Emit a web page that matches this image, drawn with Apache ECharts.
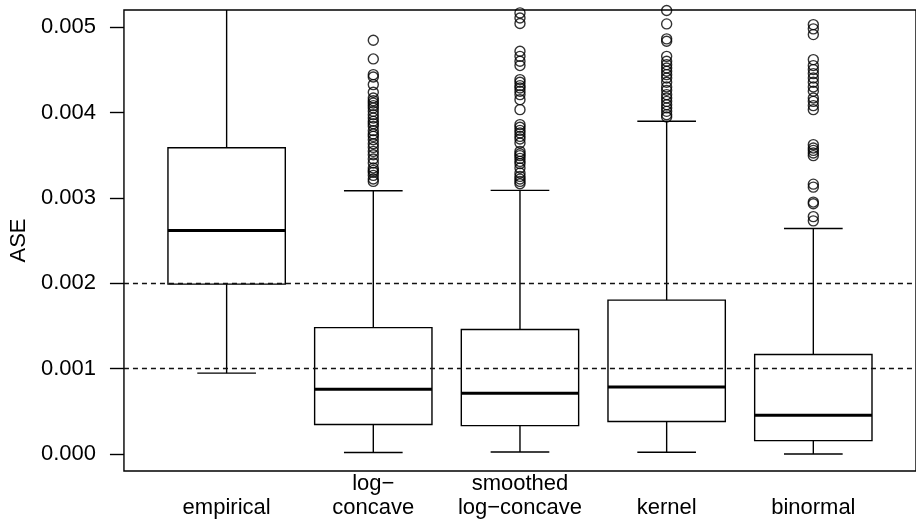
<!DOCTYPE html>
<html>
<head>
<meta charset="utf-8">
<script src="https://cdn.jsdelivr.net/npm/echarts@6/dist/echarts.min.js"></script>
<style>
  html, body { margin: 0; padding: 0; background: #fff; }
  #chart { width: 916px; height: 522px; }
</style>
</head>
<body>
<div id="chart"></div>
<script>
// categories and box statistics
const categories = ['empirical', 'log\u2212\nconcave', 'smoothed\nlog\u2212concave', 'kernel', 'binormal'];
const lowerWhisker = [0.000946, 0.000016, 0.000023, 0.000020, 0.000000];
const q1 = [0.001989, 0.000344, 0.000332, 0.000379, 0.000156];
const median = [0.002618, 0.000758, 0.000711, 0.000785, 0.000453];
const q3 = [0.003587, 0.001480, 0.001457, 0.001801, 0.001164];
const upperWhisker = [0.005900, 0.003083, 0.003087, 0.003896, 0.002641];

// outliers per group
const outEmpirical = [];
const outLogConcave = [0.004845, 0.004627, 0.004443, 0.004416, 0.004326, 0.004236, 0.004170, 0.004138,
  0.004111, 0.004080, 0.004053, 0.004013, 0.003974, 0.003935, 0.003896, 0.003869, 0.003837, 0.003787,
  0.003748, 0.003720, 0.003681, 0.003634, 0.003591, 0.003544, 0.003505, 0.003455, 0.003408, 0.003349,
  0.003321, 0.003298, 0.003263, 0.003220, 0.003192];
const outSmoothed = [0.005166, 0.005107, 0.005041, 0.004716, 0.004657, 0.004599, 0.004549, 0.004385,
  0.004353, 0.004314, 0.004287, 0.004248, 0.004209, 0.004150, 0.004033, 0.003857, 0.003826, 0.003790,
  0.003760, 0.003720, 0.003689, 0.003642, 0.003544, 0.003517, 0.003494, 0.003462, 0.003427, 0.003400,
  0.003350, 0.003291, 0.003251, 0.003220, 0.003192, 0.003165];
const outKernel = [0.005195, 0.005037, 0.004862, 0.004834, 0.004657, 0.004599, 0.004560, 0.004521,
  0.004482, 0.004443, 0.004404, 0.004353, 0.004299, 0.004259, 0.004209, 0.004170, 0.004130, 0.004091,
  0.004053, 0.004013, 0.003974, 0.003947];
const outBinormal = [0.005029, 0.004979, 0.004912, 0.004619, 0.004549, 0.004502, 0.004455, 0.004404,
  0.004353, 0.004299, 0.004248, 0.004170, 0.004130, 0.004080, 0.004033, 0.003623, 0.003584, 0.003556,
  0.003525, 0.003494, 0.003160, 0.003125, 0.002950, 0.002930, 0.002780, 0.002730];

const yTicks = [0, 0.001, 0.002, 0.003, 0.004, 0.005];
const refLines = [0.001, 0.002];

const FONT = '"Liberation Sans", Arial, Helvetica, sans-serif';

var boxData = categories.map(function (c, i) {
    return [i + 1, lowerWhisker[i], q1[i], median[i], q3[i], upperWhisker[i]];
});

var outliers = [];
[outEmpirical, outLogConcave, outSmoothed, outKernel, outBinormal].forEach(function (arr, i) {
    arr.forEach(function (v) { outliers.push([i + 1, v]); });
});

function renderBox(params, api) {
    var x = api.value(0);
    var pLo = api.coord([x, api.value(1)]);
    var pQ1 = api.coord([x, api.value(2)]);
    var pMed = api.coord([x, api.value(3)]);
    var pQ3 = api.coord([x, api.value(4)]);
    var pHi = api.coord([x, api.value(5)]);
    var half = api.size([0.4, 0])[0];
    var cap = half / 2;
    var cx = pMed[0];
    var ln = { stroke: '#000', lineWidth: 1.4, fill: null };
    return {
        type: 'group',
        children: [
            { type: 'line', shape: { x1: cx, y1: pQ3[1], x2: cx, y2: pHi[1] }, style: ln },
            { type: 'line', shape: { x1: cx, y1: pQ1[1], x2: cx, y2: pLo[1] }, style: ln },
            { type: 'line', shape: { x1: cx - cap, y1: pHi[1], x2: cx + cap, y2: pHi[1] }, style: ln },
            { type: 'line', shape: { x1: cx - cap, y1: pLo[1], x2: cx + cap, y2: pLo[1] }, style: ln },
            { type: 'rect', shape: { x: cx - half, y: pQ3[1], width: half * 2, height: pQ1[1] - pQ3[1] },
              style: { stroke: '#000', lineWidth: 1.4, fill: '#fff' } },
            { type: 'line', shape: { x1: cx - half, y1: pMed[1], x2: cx + half, y2: pMed[1] },
              style: { stroke: '#000', lineWidth: 3 } }
        ]
    };
}

var dom = document.getElementById('chart');
var myChart = echarts.init(dom, null, { renderer: 'canvas' });

var option = {
    animation: false,
    textStyle: { fontFamily: FONT },
    grid: {
        left: 113,
        top: 10,
        width: 814,
        height: 461,
        show: true,
        borderColor: '#000',
        borderWidth: 1.4,
        backgroundColor: 'transparent'
    },
    xAxis: {
        type: 'value',
        min: 0.3,
        max: 5.7,
        axisLine: { show: false },
        axisTick: { show: false },
        splitLine: { show: false },
        axisLabel: {
            customValues: [1, 2, 3, 4, 5],
            formatter: function (v) { return categories[Math.round(v) - 1]; },
            color: '#000',
            fontSize: 22,
            fontFamily: FONT,
            lineHeight: 24,
            verticalAlign: 'bottom',
            margin: 49
        }
    },
    yAxis: {
        type: 'value',
        min: -0.0002,
        max: 0.0052,
        name: 'ASE',
        nameLocation: 'middle',
        nameGap: 82,
        nameTextStyle: { color: '#000', fontSize: 22, fontFamily: FONT },
        axisLine: { show: false },
        axisTick: {
            show: true,
            length: 14,
            customValues: yTicks,
            lineStyle: { color: '#000', width: 1.4 }
        },
        splitLine: { show: false },
        axisLabel: {
            customValues: yTicks,
            formatter: function (v) { return v.toFixed(3); },
            color: '#000',
            fontSize: 22,
            fontFamily: FONT,
            margin: 28
        }
    },
    series: [
        {
            type: 'custom',
            renderItem: renderBox,
            data: boxData,
            clip: true,
            z: 2
        },
        {
            type: 'scatter',
            data: outliers,
            symbol: 'circle',
            symbolSize: 10,
            clip: true,
            itemStyle: { color: 'rgba(0,0,0,0)', borderColor: '#000', borderWidth: 1.4 },
            z: 3,
            markLine: {
                silent: true,
                precision: 6,
                symbol: ['none', 'none'],
                label: { show: false },
                lineStyle: { color: '#111', width: 1.4, type: [5, 4] },
                data: refLines.map(function (v) { return { yAxis: v }; })
            }
        }
    ]
};

myChart.setOption(option);
window.addEventListener('resize', myChart.resize);
</script>
</body>
</html>
